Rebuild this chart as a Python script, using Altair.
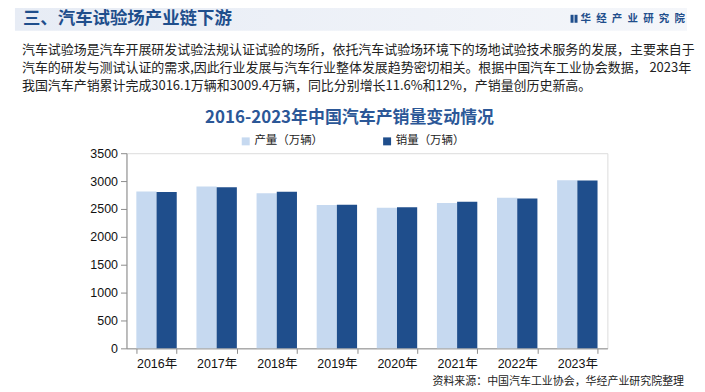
import altair as alt
import pandas as pd

years = ["2016年", "2017年", "2018年", "2019年", "2020年", "2021年", "2022年", "2023年"]
production = [2811.9, 2901.5, 2780.9, 2572.1, 2522.5, 2608.2, 2702.1, 3016.1]
sales = [2802.8, 2887.9, 2808.1, 2576.9, 2531.1, 2627.5, 2686.4, 3009.4]
series = ["产量（万辆）", "销量（万辆）"]
colors = ["#C6D9F0", "#1F4E8C"]
y_ticks = [0, 500, 1000, 1500, 2000, 2500, 3000, 3500]

header = "三、汽车试验场产业链下游"
logo = "\u2002".join(list("华经产业研究院"))
para = [
    "汽车试验场是汽车开展研发试验法规认证试验的场所，依托汽车试验场环境下的场地试验技术服务的发展，主要来自于",
    "汽车的研发与测试认证的需求,因此行业发展与汽车行业整体发展趋势密切相关。根据中国汽车工业协会数据， 2023年",
    "我国汽车产销累计完成3016.1万辆和3009.4万辆，同比分别增长11.6%和12%，产销量创历史新高。",
]
title = "2016-2023年中国汽车产销量变动情况"
source = "资料来源：中国汽车工业协会，华经产业研究院整理"

CJK = "Noto Sans CJK SC"
NUM = "Liberation Sans, Arial, Noto Sans CJK SC"

rows = []
for i, yr in enumerate(years):
    rows.append({"year": yr, "series": series[0], "value": production[i]})
    rows.append({"year": yr, "series": series[1], "value": sales[i]})
df = pd.DataFrame(rows)

bars = alt.Chart(df).mark_bar().encode(
    x=alt.X("year:N", sort=years,
            scale=alt.Scale(paddingInner=0.328, paddingOuter=0.164),
            axis=alt.Axis(title=None, labelAngle=0, tickBand="extent", tickSize=5,
                          domainColor="#8C8C8C", tickColor="#8C8C8C",
                          labelFont=NUM, labelFontSize=12.5, labelColor="#111",
                          labelPadding=4)),
    xOffset=alt.XOffset("series:N", sort=series, scale=alt.Scale(paddingInner=0, paddingOuter=0)),
    y=alt.Y("value:Q", scale=alt.Scale(domain=[0, 3500], nice=False),
            axis=alt.Axis(title=None, values=y_ticks, grid=False, tickSize=6, format="d",
                          domainColor="#8C8C8C", tickColor="#8C8C8C",
                          labelFont=NUM, labelFontSize=12.5, labelColor="#111",
                          labelPadding=3)),
    color=alt.Color("series:N", sort=series,
                    scale=alt.Scale(domain=series, range=colors),
                    legend=alt.Legend(title=None, orient="none", direction="horizontal",
                                      legendX=114, legendY=-18, symbolType="square",
                                      symbolSize=64, symbolStrokeWidth=0,
                                      labelFont=CJK, labelFontSize=11.5, labelColor="#222",
                                      labelOffset=3, columnPadding=58)),
)

def txt(text, x, y, size, color="#222", weight="normal", align="left", font=CJK):
    d = pd.DataFrame({"t": [text]})
    return alt.Chart(d).mark_text(
        align=align, baseline="middle", fontSize=size, font=font,
        fontWeight=weight, color=color
    ).encode(x=alt.value(x), y=alt.value(y), text="t:N")

bg = alt.Chart(pd.DataFrame({"t": [1]})).mark_rect(
    color=alt.LinearGradient(
        gradient="linear", x1=0, x2=1, y1=0, y2=0,
        stops=[alt.GradientStop(color="#E7ECF5", offset=0),
               alt.GradientStop(color="#F4F6FA", offset=1)])
).encode(x=alt.value(-112), x2=alt.value(563), y=alt.value(-148), y2=alt.value(-123))

icon1 = alt.Chart(pd.DataFrame({"t": [1]})).mark_rect(color="#1F4E8C").encode(
    x=alt.value(446), x2=alt.value(449), y=alt.value(-139), y2=alt.value(-131))
icon2 = alt.Chart(pd.DataFrame({"t": [1]})).mark_rect(color="#1F4E8C").encode(
    x=alt.value(450), x2=alt.value(453), y=alt.value(-139), y2=alt.value(-131))

layers = [
    bg,
    txt(header, -104, -134.5, 17.5, color="#1F4E8C", weight="bold"),
    icon1, icon2,
    txt(logo, 456, -135, 10.5, color="#1F4E8C", weight="bold"),
    txt(para[0], -105, -104, 13),
    txt(para[1], -105, -86, 13),
    txt(para[2], -105, -67, 13),
    txt(title, 224, -35, 17, color="#2B5797", weight="bold", align="center"),
    bars,
    txt(source, 560, 230, 11, color="#222", align="right"),
]

chart = alt.layer(*layers).properties(
    width=483, height=196,
    padding={"left": 119, "top": 145, "right": 90, "bottom": 38},
    autosize=alt.AutoSizeParams(type="none"),
).configure_view(stroke=None).configure(background="white")

chart.save("out.html", embed_options={"renderer": "svg", "actions": False})
